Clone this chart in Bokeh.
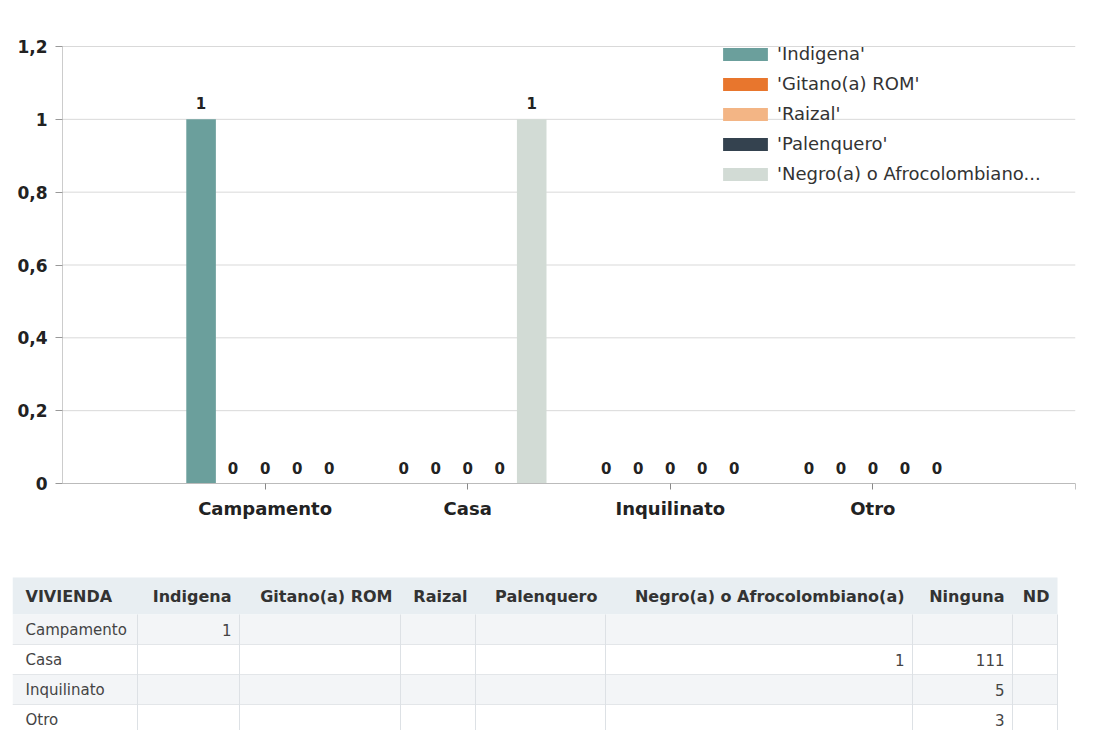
from bokeh.plotting import figure
from bokeh.models import (Range1d, FixedTicker, CustomJSTickFormatter, ColumnDataSource,
                          Legend, LegendItem)
from bokeh.layouts import column
from bokeh.embed import file_html
from bokeh.resources import INLINE
from bokeh.core.properties import value

# ---------------- data ----------------
categories = ["Campamento", "Casa", "Inquilinato", "Otro"]
series_names = ["Indigena", "Gitano(a) ROM", "Raizal", "Palenquero",
                "Negro(a) o Afrocolombiano(a)"]
legend_labels = ["'Indigena'", "'Gitano(a) ROM'", "'Raizal'", "'Palenquero'",
                 "'Negro(a) o Afrocolombiano..."]
indigena = [1, 0, 0, 0]
gitano = [0, 0, 0, 0]
raizal = [0, 0, 0, 0]
palenquero = [0, 0, 0, 0]
negro = [0, 1, 0, 0]
y_ticks = [0, 0.2, 0.4, 0.6, 0.8, 1.0, 1.2]

table_columns = ["VIVIENDA", "Indigena", "Gitano(a) ROM", "Raizal", "Palenquero",
                 "Negro(a) o Afrocolombiano(a)", "Ninguna", "ND"]
table_rows = ["Campamento", "Casa", "Inquilinato", "Otro"]
t_indigena = [1, None, None, None]
t_gitano = [None, None, None, None]
t_raizal = [None, None, None, None]
t_palenquero = [None, None, None, None]
t_negro = [None, 1, None, None]
t_ninguna = [None, 111, 5, 3]
t_nd = [None, None, None, None]

# ---------------- style / layout ----------------
colors = ["#6b9f9c", "#e8762d", "#f3b585", "#34424f", "#d2dbd5"]
FONT = value("DejaVu Sans")
W = 1090
CH = 552
TH = 178
FRAME_L = 12           # left edge of both frames (page px)
FRAME_T = 20
FRAME_B = 540
AXIS_X = 62            # where the y axis sits (page px)
PLOT_R = 1075          # right end of the x axis (page px)
PLOT_T = 46            # y = 1.2
PLOT_B = 483           # y = 0
Y_MAX = 1.2
N_SLOTS = 5
bar_step = 0.158
bar_width = 0.146
px_x = (PLOT_R - AXIS_X) / N_SLOTS
px_y = (PLOT_B - PLOT_T) / Y_MAX
x_start = -(AXIS_X - FRAME_L) / px_x
y_start = -(FRAME_B - PLOT_B) / px_y
y_end = Y_MAX + (PLOT_T - FRAME_T) / px_y

# ---------------- chart ----------------
p = figure(width=W, height=CH, x_range=Range1d(x_start, N_SLOTS),
           y_range=Range1d(y_start, y_end),
           output_backend="svg", toolbar_location=None,
           min_border_left=FRAME_L, min_border_right=W - PLOT_R,
           min_border_top=FRAME_T, min_border_bottom=CH - FRAME_B)
p.outline_line_color = None
p.background_fill_color = "white"
p.border_fill_color = "white"
p.xgrid.visible = False
p.ygrid.visible = False

# horizontal gridlines from the tick list, spanning the category slots only
g_y = [v for v in y_ticks if v > 0]
p.segment(x0=[0] * len(g_y), x1=[N_SLOTS] * len(g_y), y0=g_y, y1=g_y,
          line_color="#d9d9d9", line_width=1)

series_values = [indigena, gitano, raizal, palenquero, negro]
items = []
lx, ly, lt = [], [], []
for i, (vals, col, lab) in enumerate(zip(series_values, colors, legend_labels)):
    xs = [c + 1 + (i - 2) * bar_step for c in range(len(categories))]
    src = ColumnDataSource(dict(x=xs, top=vals))
    r = p.vbar(x="x", top="top", width=bar_width, source=src, fill_color=col,
               line_color=None)
    items.append(LegendItem(label=lab, renderers=[r]))
    lx += xs
    ly += vals
    lt += [str(v) for v in vals]

lab_src = ColumnDataSource(dict(x=lx, y=ly, t=lt))
p.text(x="x", y="y", text="t", source=lab_src, text_align="center",
       text_baseline="alphabetic", y_offset=-16, text_font=FONT,
       text_font_style="bold", text_font_size="15px", text_color="#222222")

legend = Legend(items=items, location=(717 - FRAME_L, 356), orientation="vertical",
                glyph_width=56, glyph_height=16, label_standoff=4,
                label_height=21, spacing=9, padding=0, margin=0,
                border_line_color=None, background_fill_alpha=0,
                label_text_font="DejaVu Sans", label_text_font_size="18px",
                label_text_color="#333333")
p.add_layout(legend)

# y axis drawn at x = 0
p.yaxis.fixed_location = 0
p.yaxis.bounds = (0, Y_MAX)
p.yaxis.ticker = FixedTicker(ticks=y_ticks)
p.yaxis.formatter = CustomJSTickFormatter(
    code="var s = (Math.round(tick*10)/10).toString(); return s.replace('.', ',');")
p.yaxis.major_label_text_font = "DejaVu Sans"
p.yaxis.major_label_text_font_style = "bold"
p.yaxis.major_label_text_font_size = "17px"
p.yaxis.major_label_text_color = "#222222"
p.yaxis.axis_line_color = "#cccccc"
p.yaxis.major_tick_line_color = "#999999"
p.yaxis.major_tick_out = 7
p.yaxis.major_tick_in = 0
p.yaxis.minor_tick_line_color = None
p.yaxis.major_label_standoff = 8

# x axis drawn at y = 0
p.xaxis.fixed_location = 0
p.xaxis.bounds = (0, N_SLOTS)
p.xaxis.ticker = FixedTicker(ticks=[1, 2, 3, 4, 5])
overrides = {i + 1: c for i, c in enumerate(categories)}
overrides[5] = ""
p.xaxis.major_label_overrides = overrides
p.xaxis.major_label_text_font = "DejaVu Sans"
p.xaxis.major_label_text_font_style = "bold"
p.xaxis.major_label_text_font_size = "18px"
p.xaxis.major_label_text_color = "#222222"
p.xaxis.axis_line_color = "#bbbbbb"
p.xaxis.major_tick_line_color = "#888888"
p.xaxis.major_tick_out = 6
p.xaxis.major_tick_in = 0
p.xaxis.minor_tick_line_color = None
p.xaxis.major_label_standoff = 8

# ---------------- table ----------------
t = figure(width=W, height=TH, x_range=Range1d(FRAME_L, PLOT_R),
           y_range=Range1d(CH + TH, CH),
           output_backend="svg", toolbar_location=None,
           x_axis_type=None, y_axis_type=None,
           min_border_left=FRAME_L, min_border_right=W - PLOT_R,
           min_border_top=0, min_border_bottom=0)
t.outline_line_color = None
t.grid.visible = False
t.background_fill_color = "white"
t.border_fill_color = "white"

col_widths = [125, 102, 161, 75, 130, 307, 100, 45]
edges = [FRAME_L]
for w in col_widths:
    edges.append(edges[-1] + w)
header_top = 577
header_h = 37
row_h = 30
body_top = header_top + header_h
bottom = CH + TH

t.quad(left=[edges[0]], right=[edges[-1]], top=[header_top], bottom=[body_top],
       fill_color="#e8eef2", line_color=None)
row_tops = [body_top + r * row_h for r in range(len(table_rows))]
row_fill = ["#f3f5f7" if r % 2 == 0 else "#ffffff" for r in range(len(table_rows))]
t.quad(left=[edges[0]] * len(table_rows), right=[edges[-1]] * len(table_rows),
       top=row_tops, bottom=[y + row_h for y in row_tops],
       fill_color=row_fill, line_color=None)
hy = [body_top + r * row_h for r in range(1, len(table_rows))]
t.segment(x0=[edges[0]] * len(hy), x1=[edges[-1]] * len(hy), y0=hy, y1=hy,
          line_color="#e3e6e9", line_width=1)
vx = edges[1:]
t.segment(x0=vx, x1=vx, y0=[body_top] * len(vx), y1=[bottom] * len(vx),
          line_color="#dde1e5", line_width=1)

hx, ha, ht = [], [], []
for j, name in enumerate(table_columns):
    if j == 0:
        hx.append(edges[0] + 13)
        ha.append("left")
    else:
        hx.append(edges[j + 1] - 8)
        ha.append("right")
    ht.append(name)
t.text(x=hx, y=[header_top + header_h / 2] * len(hx), text=ht, text_align=ha,
       text_baseline="middle", text_font=FONT, text_font_style="bold",
       text_font_size="16px", text_color="#333333")

cols_vals = [t_indigena, t_gitano, t_raizal, t_palenquero, t_negro, t_ninguna, t_nd]
bx, by, bt, ba = [], [], [], []
for r, name in enumerate(table_rows):
    yc = row_tops[r] + row_h / 2
    bx.append(edges[0] + 13); by.append(yc); bt.append(name); ba.append("left")
    for j, vals in enumerate(cols_vals):
        v = vals[r]
        if v is not None:
            bx.append(edges[j + 2] - 8); by.append(yc); bt.append(str(v)); ba.append("right")
t.text(x=bx, y=by, text=bt, text_align=ba, text_baseline="middle",
       text_font=FONT, text_font_size="15px", text_color="#444444")

layout = column(p, t, spacing=0)
open("out.html", "w").write(file_html(layout, INLINE))
